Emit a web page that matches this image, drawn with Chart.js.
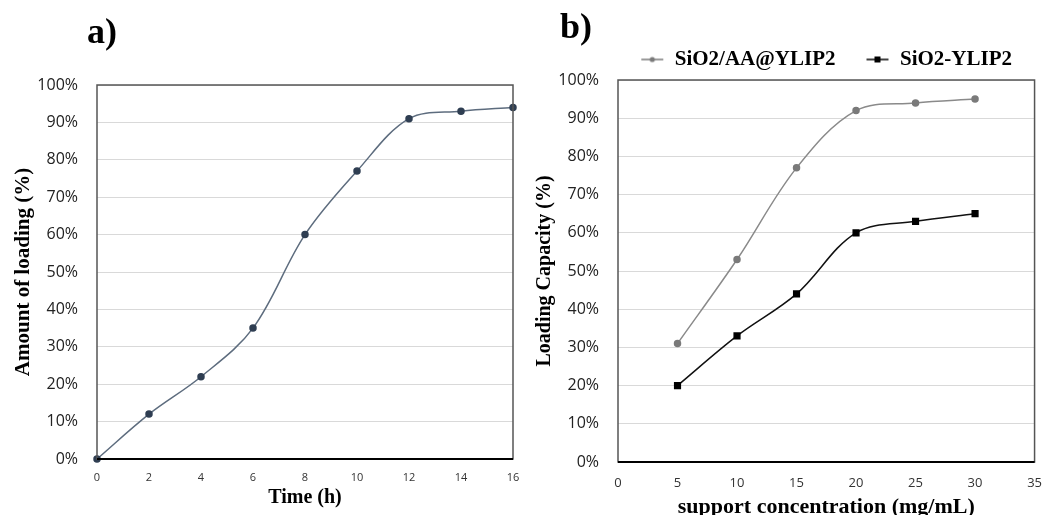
<!DOCTYPE html>
<html>
<head>
<meta charset="utf-8">
<script src="https://cdn.jsdelivr.net/npm/chart.js@4.4.1/dist/chart.umd.min.js"></script>
<style>
  body { margin: 0; background: #fff; width: 1047px; height: 515px; overflow: hidden; position: relative; }
  .panel { position: absolute; top: 0; height: 515px; }
  #wrapA { left: 0; width: 525px; }
  #wrapB { left: 525px; width: 522px; }
  .tag { position: absolute; font-family: "Liberation Serif", serif; font-weight: bold; font-size: 36px; line-height: 1; color: #000; }
</style>
</head>
<body>
<div class="panel" id="wrapA"><canvas id="chartA" width="525" height="515"></canvas></div>
<div class="panel" id="wrapB"><canvas id="chartB" width="522" height="515"></canvas></div>
<div class="tag" style="left:87px; top:13px;">a)</div>
<div class="tag" style="left:560px; top:8px;">b)</div>
<script>
// Panel a: loading over time
const timeHours = [0, 2, 4, 6, 8, 10, 12, 14, 16];
const loadingAmount = [0, 12, 22, 35, 60, 77, 91, 93, 94];

// Panel b: loading capacity vs support concentration
const supportConc = [5, 10, 15, 20, 25, 30];
const capacityAA = [31, 53, 77, 92, 94, 95];
const capacityPlain = [20, 33, 44, 60, 63, 65];
const seriesNames = ['SiO2/AA@YLIP2', 'SiO2-YLIP2'];

const sansFont = '"Open Sans", "Liberation Sans", sans-serif';
const serifFont = '"Liberation Serif", "DejaVu Serif", serif';

// Draw the plot frame around the chart area
const framePlugin = {
    id: 'frame',
    afterDraw(chart) {
        const a = chart.chartArea;
        const ctx = chart.ctx;
        ctx.save();
        ctx.strokeStyle = '#555';
        ctx.lineWidth = 1.5;
        ctx.strokeRect(a.left, a.top, a.right - a.left, a.bottom - a.top);
        ctx.strokeStyle = '#000';
        ctx.lineWidth = 2;
        ctx.beginPath();
        ctx.moveTo(a.left, a.bottom);
        ctx.lineTo(a.right, a.bottom);
        ctx.stroke();
        ctx.restore();
    }
};

function percentAxis(titleText, width, titleSize, titleTop) {
    return {
        min: 0, max: 100,
        ticks: {
            stepSize: 10,
            callback: v => v + '%',
            font: { family: sansFont, size: 16 },
            color: '#222',
            padding: 19
        },
        grid: { color: '#d9d9d9', drawTicks: false, lineWidth: 1 },
        border: { display: false },
        title: {
            display: true, text: titleText,
            font: { family: serifFont, size: titleSize, weight: 'bold' },
            color: '#000', padding: { top: titleTop, bottom: 0 }
        },
        afterFit(scale) { scale.width = width; }
    };
}

// Legend sample: short line with a marker in the middle
function legendSample(color, square) {
    const c = document.createElement('canvas');
    c.width = 24; c.height = 10;
    const g = c.getContext('2d');
    g.strokeStyle = color; g.lineWidth = 1.5;
    g.beginPath(); g.moveTo(1, 5); g.lineTo(23, 5); g.stroke();
    g.fillStyle = color;
    if (square) { g.fillRect(9, 2, 6, 6); }
    else { g.beginPath(); g.arc(12, 5, 2.6, 0, Math.PI * 2); g.fill(); }
    return c;
}

const chartA = new Chart(document.getElementById('chartA'), {
    type: 'line',
    data: {
        datasets: [{
            data: timeHours.map((t, i) => ({ x: t, y: loadingAmount[i] })),
            borderColor: '#5d6c7e',
            borderWidth: 1.5,
            pointBackgroundColor: '#2f3e52',
            pointBorderColor: '#2f3e52',
            pointRadius: 3,
            tension: 0.35,
            clip: false
        }]
    },
    options: {
        responsive: false,
        animation: false,
        layout: { padding: { top: 85, right: 12, left: 0, bottom: 0 } },
        plugins: { legend: { display: false }, tooltip: { enabled: false } },
        scales: {
            x: {
                type: 'linear', min: 0, max: 16,
                ticks: { stepSize: 2, font: { family: sansFont, size: 11 }, color: '#333', padding: 4 },
                grid: { display: false },
                border: { display: false },
                title: {
                    display: true, text: 'Time (h)',
                    font: { family: serifFont, size: 20, weight: 'bold' },
                    color: '#000', padding: { top: 0, bottom: 5 }
                },
                afterFit(scale) { scale.height = 56; }
            },
            y: percentAxis('Amount of loading (%)', 97, 21, 11)
        }
    },
    plugins: [framePlugin]
});

const chartB = new Chart(document.getElementById('chartB'), {
    type: 'line',
    data: {
        datasets: [{
            label: seriesNames[0],
            data: supportConc.map((c, i) => ({ x: c, y: capacityAA[i] })),
            borderColor: '#8a8a8a',
            borderWidth: 1.5,
            pointBackgroundColor: '#7a7a7a',
            pointBorderColor: '#7a7a7a',
            pointRadius: 3,
            tension: 0.35
        }, {
            label: seriesNames[1],
            data: supportConc.map((c, i) => ({ x: c, y: capacityPlain[i] })),
            borderColor: '#111',
            borderWidth: 1.5,
            pointStyle: 'rect',
            pointBackgroundColor: '#000',
            pointBorderColor: '#000',
            pointRadius: 4,
            tension: 0.35
        }]
    },
    options: {
        responsive: false,
        animation: false,
        layout: { padding: { top: 19, right: 5, left: 0, bottom: 0 } },
        plugins: {
            tooltip: { enabled: false },
            legend: {
                position: 'top',
                align: 'end',
                labels: {
                    usePointStyle: true,
                    pointStyleWidth: 24,
                    font: { family: serifFont, size: 21, weight: 'bold' },
                    color: '#000',
                    padding: 30,
                    generateLabels(chart) {
                        return chart.data.datasets.map((ds, i) => ({
                            text: ds.label,
                            pointStyle: legendSample(i === 0 ? '#7a7a7a' : '#000', i === 1),
                            fillStyle: '#000', strokeStyle: '#000', lineWidth: 0,
                            fontColor: '#000', datasetIndex: i, hidden: false
                        }));
                    }
                }
            }
        },
        scales: {
            x: {
                type: 'linear', min: 0, max: 35,
                ticks: { stepSize: 5, font: { family: sansFont, size: 13 }, color: '#333', padding: 5 },
                grid: { display: false },
                border: { display: false },
                title: {
                    display: true, text: 'support concentration (mg/mL)',
                    font: { family: serifFont, size: 22, weight: 'bold', lineHeight: 1 },
                    color: '#000', padding: { top: 0, bottom: -3 }
                },
                afterFit(scale) { scale.height = 53; }
            },
            y: percentAxis('Loading Capacity (%)', 93, 20, 8)
        }
    },
    plugins: [framePlugin]
});
</script>
</body>
</html>
